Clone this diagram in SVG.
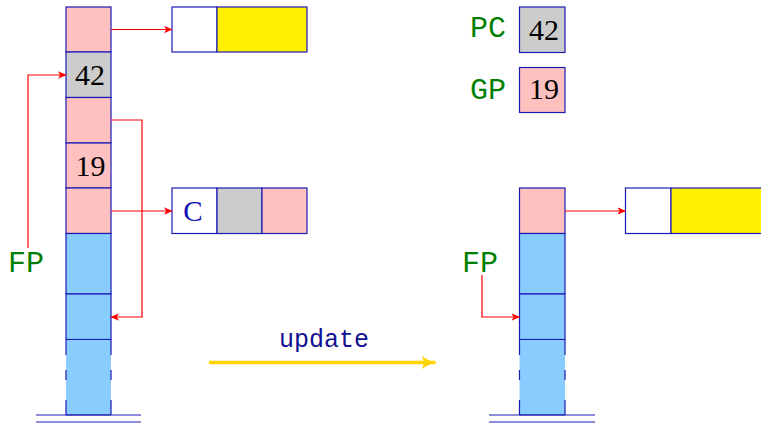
<svg xmlns="http://www.w3.org/2000/svg" width="761" height="424" viewBox="0 0 761 424">
<style>
.c{stroke:#1c1cb4;stroke-width:1.2}
.pk{fill:#ffc0c0}
.gr{fill:#cccccc}
.bl{fill:#89cdfe}
.wh{fill:#ffffff}
.ye{fill:#fff000}
.ln{stroke:#1c1cb4;stroke-width:1.2;fill:none}
.num{font-family:"Liberation Serif",serif;font-size:30px;fill:#000;text-anchor:middle}
.lab{font-family:"Liberation Mono",monospace;font-size:30px;fill:#008000}
.arr{stroke:#ff0000;stroke-width:1.2;fill:none}
</style>
<defs>
<marker id="ah" markerUnits="userSpaceOnUse" markerWidth="10" markerHeight="8" refX="8" refY="4" orient="auto" viewBox="0 0 10 8">
<path d="M0,0.3 L8.5,4 L0,7.7 L2.2,4 z" fill="#ff0000"/>
</marker>
<marker id="ahy" markerUnits="userSpaceOnUse" markerWidth="16" markerHeight="18" refX="14" refY="9" orient="auto" viewBox="0 0 16 18">
<path d="M0,2 Q7,7.5 14.5,9 Q7,10.5 0,16 Q4,9 0,2 z" fill="#ffd400"/>
</marker>
</defs>

<g id="stack-left">
<rect class="c pk" x="66" y="7" width="45" height="45"/>
<rect class="c gr" x="66" y="52" width="45" height="45.5"/>
<text class="num" x="90" y="85">42</text>
<rect class="c pk" x="66" y="97.5" width="45" height="45.5"/>
<rect class="c pk" x="66" y="143" width="45" height="45"/>
<text class="num" x="90.5" y="176">19</text>
<rect class="c pk" x="66" y="188" width="45" height="45.5"/>
<rect class="c bl" x="66" y="233.5" width="45" height="60.5"/>
<rect class="c bl" x="66" y="294" width="45" height="45.5"/>
<rect class="bl" x="66" y="339.5" width="45" height="75.5"/>
<path class="ln" d="M66,339.5 H111 M66,339.5 V355 M111,339.5 V355 M66,370 V380 M111,370 V380 M66,400 V415 M111,400 V415 M66,415 H111"/>
<path class="ln" d="M36,415 H141 M36,422 H141"/>
</g>

<g id="box-top">
<rect class="c wh" x="172" y="7" width="45" height="45"/>
<rect class="c ye" x="217" y="7" width="90" height="45"/>
</g>

<g id="box-c">
<rect class="c wh" x="172" y="188" width="45" height="45.5"/>
<text x="193" y="221" style="font-family:'Liberation Serif',serif;font-size:29px;fill:#1010b0;text-anchor:middle">C</text>
<rect class="c gr" x="217" y="188" width="45" height="45.5"/>
<rect class="c pk" x="262" y="188" width="45" height="45.5"/>
</g>

<g id="label-fp-left">
<text class="lab" x="8" y="272">FP</text>
</g>

<g id="pc-reg">
<text class="lab" x="470" y="37">PC</text>
<rect class="c gr" x="519.5" y="7" width="45.5" height="45.5"/>
<text class="num" x="544" y="40">42</text>
</g>

<g id="gp-reg">
<text class="lab" x="470" y="99">GP</text>
<rect class="c pk" x="519.5" y="67.5" width="45.5" height="45"/>
<text class="num" x="544" y="99">19</text>
</g>

<g id="stack-right">
<rect class="c pk" x="519.5" y="188" width="45.5" height="45.5"/>
<rect class="c bl" x="519.5" y="233.5" width="45.5" height="60.5"/>
<rect class="c bl" x="519.5" y="294" width="45.5" height="45.5"/>
<rect class="bl" x="519.5" y="339.5" width="45.5" height="75.5"/>
<path class="ln" d="M519.5,339.5 H565 M519.5,339.5 V355 M565,339.5 V355 M519.5,370 V380 M565,370 V380 M519.5,400 V415 M565,400 V415 M519.5,415 H565"/>
<path class="ln" d="M489,415 H595 M489,422 H595"/>
</g>

<g id="box-right">
<rect class="c wh" x="625.5" y="188" width="45.5" height="45.5"/>
<rect class="c ye" x="671" y="188" width="95" height="45.5"/>
</g>

<g id="label-fp-right">
<text class="lab" x="462" y="272">FP</text>
</g>

<g id="label-update">
<text x="324" y="347" style="font-family:'Liberation Mono',monospace;font-size:25px;fill:#101090;text-anchor:middle">update</text>
</g>

<g id="connectors">
<path class="arr" d="M111,29.5 H172" marker-end="url(#ah)"/>
<path class="arr" d="M111,211 H172" marker-end="url(#ah)"/>
<path class="arr" d="M111,120 H142 V317 H111" marker-end="url(#ah)"/>
<path class="arr" d="M28,248 V75 H66" marker-end="url(#ah)"/>
<path class="arr" d="M565,211 H625.5" marker-end="url(#ah)"/>
<path class="arr" d="M482,275 V317 H519.5" marker-end="url(#ah)"/>
<path d="M209,362.5 H435.5" stroke="#ffd400" stroke-width="3.5" fill="none" marker-end="url(#ahy)"/>
</g>
</svg>
